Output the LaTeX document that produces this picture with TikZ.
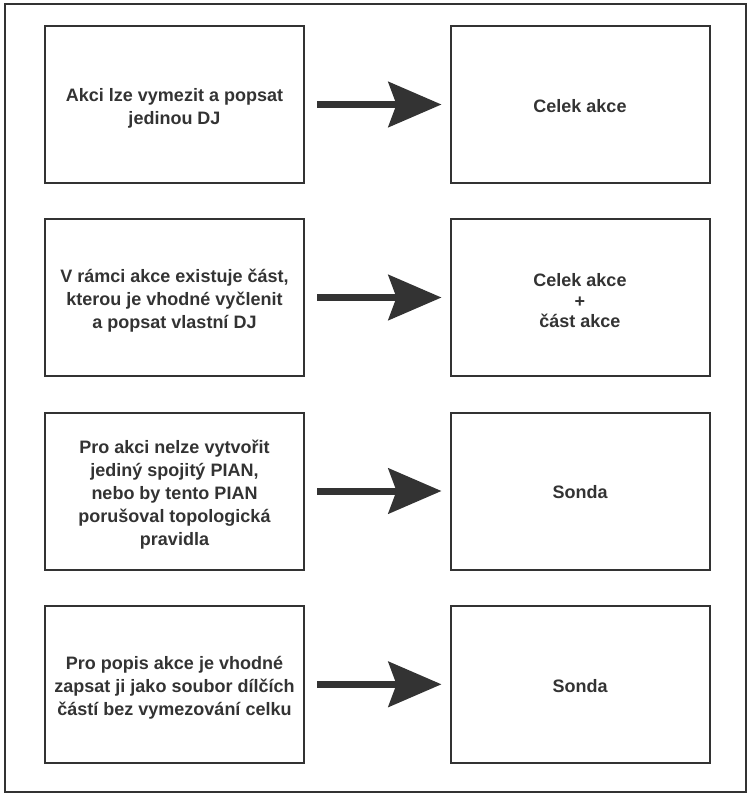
\documentclass[tikz,border=0pt]{standalone}
\usepackage{fontspec}
\setmainfont{Liberation Sans}
\usetikzlibrary{arrows.meta}
\definecolor{ink}{HTML}{333333}
\begin{document}
\begin{tikzpicture}[x=1pt,y=-1pt,
  box/.style={draw=ink,line width=2pt,minimum width=259pt,minimum height=157pt,inner sep=0pt},
  txt/.style={align=center,text=ink,inner sep=0pt,yshift=-3.5pt,
    font=\bfseries\fontsize{18pt}{23pt}\selectfont},
  txtb/.style={txt,font=\bfseries\fontsize{18pt}{20.5pt}\selectfont},
  arr/.style={draw=ink,line width=7pt,shorten <=12pt,shorten >=8pt,
    -{Stealth[length=53pt,width=45pt,inset=8pt,fill=ink]}}]
\useasboundingbox (0,0) rectangle (749,796);
\draw[draw=ink,line width=2pt] (4.5,3.5) rectangle (745.5,792);
\node[box,label={[txt]center:{Akci lze vymezit a popsat\\jedinou DJ}}] (l1) at (174.5,104.5) {};
\node[box,label={[txt,yshift=2pt]center:{Celek akce}}] (r1) at (580,104.5) {};
\node[box,label={[txt]center:{V rámci akce existuje část,\\kterou je vhodné vyčlenit\\a popsat vlastní DJ}}] (l2) at (174.5,297.5) {};
\node[box,label={[txtb]center:{Celek akce\\+\\část akce}}] (r2) at (580,297.5) {};
\node[box,label={[txt]center:{Pro akci nelze vytvořit\\jediný spojitý PIAN,\\nebo by tento PIAN\\porušoval topologická\\pravidla}}] (l3) at (174.5,491) {};
\node[box,label={[txt,yshift=2pt]center:{Sonda}}] (r3) at (580,491) {};
\node[box,label={[txt]center:{Pro popis akce je vhodné\\zapsat ji jako soubor dílčích\\částí bez vymezování celku}}] (l4) at (174.5,684.3) {};
\node[box,label={[txt,yshift=2pt]center:{Sonda}}] (r4) at (580,684.3) {};
\draw[arr] (l1) -- (r1);
\draw[arr] (l2) -- (r2);
\draw[arr] (l3) -- (r3);
\draw[arr] (l4) -- (r4);
\end{tikzpicture}
\end{document}
